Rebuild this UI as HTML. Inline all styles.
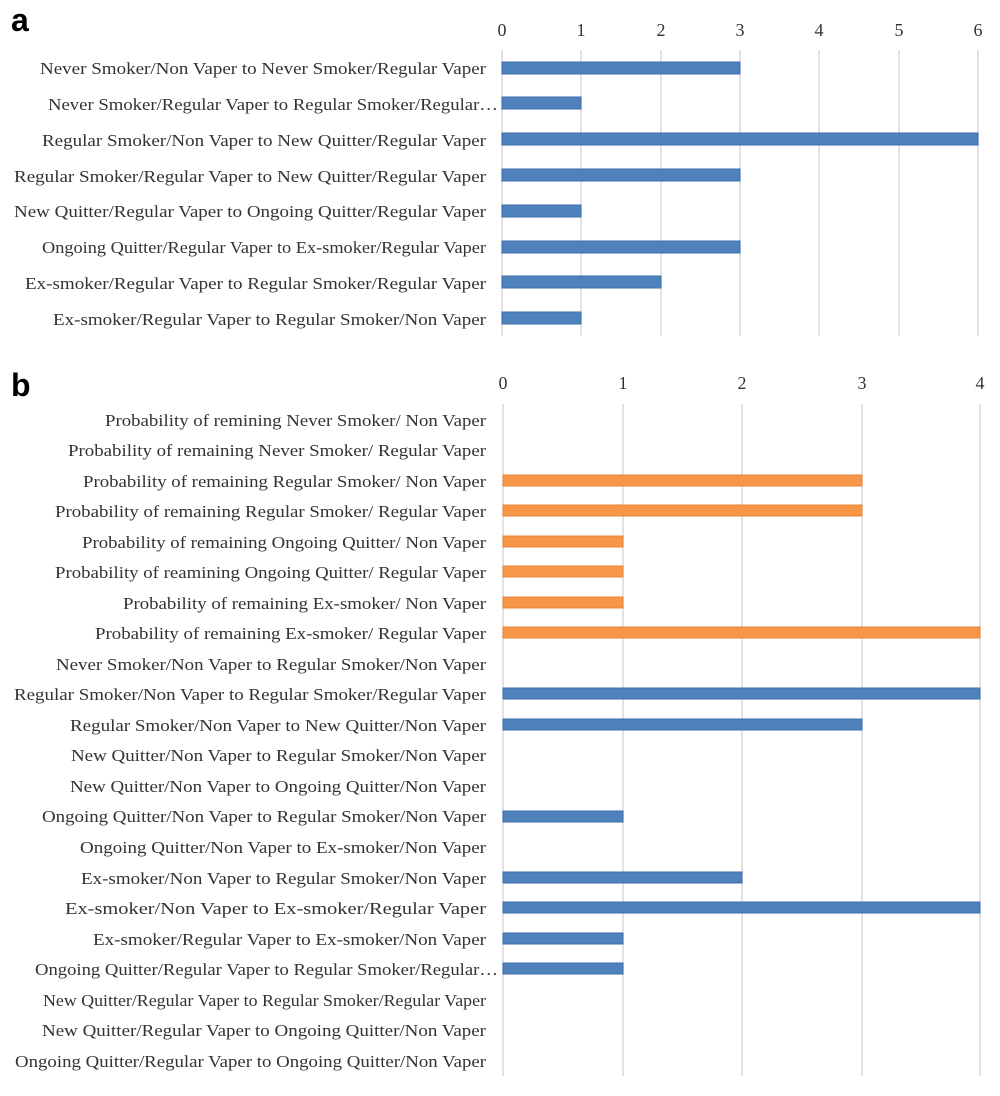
<!DOCTYPE html>
<html><head><meta charset="utf-8"><style>
html,body{margin:0;padding:0;background:#fff}
svg text{font-family:"Liberation Serif",serif;font-size:17px;fill:#333}
svg .tk{font-size:18px}
</style></head><body>
<svg width="1000" height="1091" xmlns="http://www.w3.org/2000/svg">
<text x="11" y="31" style="font-family:'Liberation Sans',sans-serif;font-weight:bold;font-size:32px;fill:#000">a</text>
<text x="11" y="396" style="font-family:'Liberation Sans',sans-serif;font-weight:bold;font-size:32px;fill:#000">b</text>
<g stroke="#d9d9d9" stroke-width="1.5">
<line x1="502" y1="50" x2="502" y2="336"/><line x1="581" y1="50" x2="581" y2="336"/><line x1="661" y1="50" x2="661" y2="336"/><line x1="740" y1="50" x2="740" y2="336"/><line x1="819" y1="50" x2="819" y2="336"/><line x1="899" y1="50" x2="899" y2="336"/><line x1="978" y1="50" x2="978" y2="336"/>
<line x1="503" y1="404" x2="503" y2="1076"/><line x1="623" y1="404" x2="623" y2="1076"/><line x1="742" y1="404" x2="742" y2="1076"/><line x1="862" y1="404" x2="862" y2="1076"/><line x1="980" y1="404" x2="980" y2="1076"/>
</g>
<g text-anchor="middle" class="tk">
<text class="tk" x="502" y="36">0</text><text class="tk" x="581" y="36">1</text><text class="tk" x="661" y="36">2</text><text class="tk" x="740" y="36">3</text><text class="tk" x="819" y="36">4</text><text class="tk" x="899" y="36">5</text><text class="tk" x="978" y="36">6</text>
<text class="tk" x="503" y="389">0</text><text class="tk" x="623" y="389">1</text><text class="tk" x="742" y="389">2</text><text class="tk" x="862" y="389">3</text><text class="tk" x="980" y="389">4</text>
</g>
<g fill="#4f81bd" stroke="#3f6fae" stroke-width="1">
<rect x="502" y="62" width="238" height="12"/>
<rect x="502" y="97" width="79" height="12"/>
<rect x="502" y="133" width="476" height="12"/>
<rect x="502" y="169" width="238" height="12"/>
<rect x="502" y="205" width="79" height="12"/>
<rect x="502" y="241" width="238" height="12"/>
<rect x="502" y="276" width="159" height="12"/>
<rect x="502" y="312" width="79" height="12"/>
</g>
<g fill="#f79646" stroke="#e8843a" stroke-width="1">
<rect x="503" y="475" width="359" height="11"/>
<rect x="503" y="505" width="359" height="11"/>
<rect x="503" y="536" width="120" height="11"/>
<rect x="503" y="566" width="120" height="11"/>
<rect x="503" y="597" width="120" height="11"/>
<rect x="503" y="627" width="477" height="11"/>
</g>
<g fill="#4f81bd" stroke="#3f6fae" stroke-width="1">
<rect x="503" y="688" width="477" height="11"/>
<rect x="503" y="719" width="359" height="11"/>
<rect x="503" y="811" width="120" height="11"/>
<rect x="503" y="872" width="239" height="11"/>
<rect x="503" y="902" width="477" height="11"/>
<rect x="503" y="933" width="120" height="11"/>
<rect x="503" y="963" width="120" height="11"/>
</g>
<g text-anchor="end">
<text x="486" y="74" textLength="446" lengthAdjust="spacingAndGlyphs">Never Smoker/Non Vaper to Never Smoker/Regular Vaper</text>
<text x="498" y="110" textLength="450" lengthAdjust="spacingAndGlyphs">Never Smoker/Regular Vaper to Regular Smoker/Regular…</text>
<text x="486" y="146" textLength="444" lengthAdjust="spacingAndGlyphs">Regular Smoker/Non Vaper to New Quitter/Regular Vaper</text>
<text x="486" y="182" textLength="472" lengthAdjust="spacingAndGlyphs">Regular Smoker/Regular Vaper to New Quitter/Regular Vaper</text>
<text x="486" y="217" textLength="472" lengthAdjust="spacingAndGlyphs">New Quitter/Regular Vaper to Ongoing Quitter/Regular Vaper</text>
<text x="486" y="253" textLength="444" lengthAdjust="spacingAndGlyphs">Ongoing Quitter/Regular Vaper to Ex-smoker/Regular Vaper</text>
<text x="486" y="289" textLength="461" lengthAdjust="spacingAndGlyphs">Ex-smoker/Regular Vaper to Regular Smoker/Regular Vaper</text>
<text x="486" y="325" textLength="433" lengthAdjust="spacingAndGlyphs">Ex-smoker/Regular Vaper to Regular Smoker/Non Vaper</text>

<text x="486" y="426" textLength="381" lengthAdjust="spacingAndGlyphs">Probability of remining Never Smoker/ Non Vaper</text>
<text x="486" y="456" textLength="418" lengthAdjust="spacingAndGlyphs">Probability of remaining Never Smoker/ Regular Vaper</text>
<text x="486" y="487" textLength="403" lengthAdjust="spacingAndGlyphs">Probability of remaining Regular Smoker/ Non Vaper</text>
<text x="486" y="517" textLength="431" lengthAdjust="spacingAndGlyphs">Probability of remaining Regular Smoker/ Regular Vaper</text>
<text x="486" y="548" textLength="404" lengthAdjust="spacingAndGlyphs">Probability of remaining Ongoing Quitter/ Non Vaper</text>
<text x="486" y="578" textLength="431" lengthAdjust="spacingAndGlyphs">Probability of reamining Ongoing Quitter/ Regular Vaper</text>
<text x="486" y="609" textLength="363" lengthAdjust="spacingAndGlyphs">Probability of remaining Ex-smoker/ Non Vaper</text>
<text x="486" y="639" textLength="391" lengthAdjust="spacingAndGlyphs">Probability of remaining Ex-smoker/ Regular Vaper</text>
<text x="486" y="670" textLength="430" lengthAdjust="spacingAndGlyphs">Never Smoker/Non Vaper to Regular Smoker/Non Vaper</text>
<text x="486" y="700" textLength="472" lengthAdjust="spacingAndGlyphs">Regular Smoker/Non Vaper to Regular Smoker/Regular Vaper</text>
<text x="486" y="731" textLength="416" lengthAdjust="spacingAndGlyphs">Regular Smoker/Non Vaper to New Quitter/Non Vaper</text>
<text x="486" y="761" textLength="415" lengthAdjust="spacingAndGlyphs">New Quitter/Non Vaper to Regular Smoker/Non Vaper</text>
<text x="486" y="792" textLength="416" lengthAdjust="spacingAndGlyphs">New Quitter/Non Vaper to Ongoing Quitter/Non Vaper</text>
<text x="486" y="822" textLength="444" lengthAdjust="spacingAndGlyphs">Ongoing Quitter/Non Vaper to Regular Smoker/Non Vaper</text>
<text x="486" y="853" textLength="406" lengthAdjust="spacingAndGlyphs">Ongoing Quitter/Non Vaper to Ex-smoker/Non Vaper</text>
<text x="486" y="884" textLength="405" lengthAdjust="spacingAndGlyphs">Ex-smoker/Non Vaper to Regular Smoker/Non Vaper</text>
<text x="486" y="914" textLength="421" lengthAdjust="spacingAndGlyphs">Ex-smoker/Non Vaper to Ex-smoker/Regular Vaper</text>
<text x="486" y="945" textLength="393" lengthAdjust="spacingAndGlyphs">Ex-smoker/Regular Vaper to Ex-smoker/Non Vaper</text>
<text x="498" y="975" textLength="463" lengthAdjust="spacingAndGlyphs">Ongoing Quitter/Regular Vaper to Regular Smoker/Regular…</text>
<text x="486" y="1006" textLength="443" lengthAdjust="spacingAndGlyphs">New Quitter/Regular Vaper to Regular Smoker/Regular Vaper</text>
<text x="486" y="1036" textLength="444" lengthAdjust="spacingAndGlyphs">New Quitter/Regular Vaper to Ongoing Quitter/Non Vaper</text>
<text x="486" y="1067" textLength="471" lengthAdjust="spacingAndGlyphs">Ongoing Quitter/Regular Vaper to Ongoing Quitter/Non Vaper</text>
</g>
</svg>
</body></html>
